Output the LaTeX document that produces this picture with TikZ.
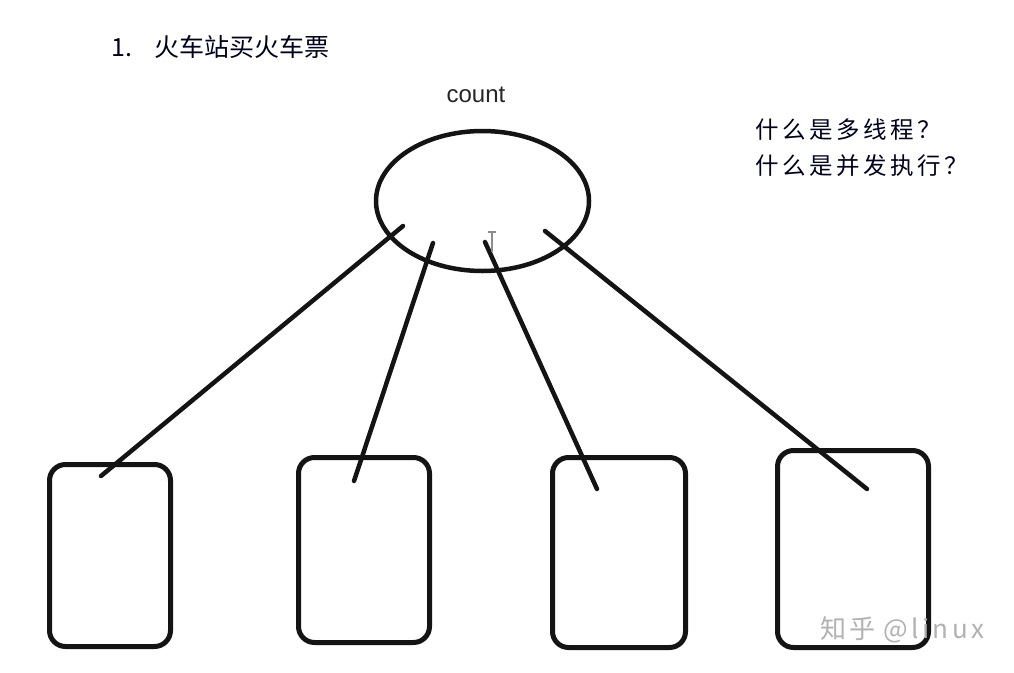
\documentclass[tikz,border=0pt]{standalone}
\usepackage{fontspec}
\setmainfont{Liberation Sans}
\newfontfamily\cjk{Noto Sans CJK SC}
\newfontfamily\cjkwide[LetterSpace=15]{Noto Sans CJK SC}
\newfontfamily\cjkwm[LetterSpace=13]{Noto Sans CJK SC}
\usetikzlibrary{shapes.geometric,calc}
\begin{document}
\begin{tikzpicture}[x=1pt,y=-1pt,
  box/.style={draw=black!92, line width=5pt, rounded corners=16pt, rectangle, inner sep=0pt},
  link/.style={draw=black!92, line width=4.5pt, line cap=round},
  cjktext/.style={font=\cjkwide\fontsize{23.5pt}{36pt}\selectfont, text=black!80!blue!60!black, inner sep=0pt, anchor=west},
  wm/.style={font=\cjkwm\fontsize{26pt}{30pt}\selectfont, text=black!30, inner sep=0pt, anchor=west}]
\useasboundingbox[fill=white] (0,0) rectangle (1014,672);

% title
\node[cjktext, font=\cjk\fontsize{25pt}{30pt}\selectfont] (title) at (111,47) {1.\hspace{22pt}火车站买火车票};

% count label and ellipse
\node[inner sep=0pt, font=\fontsize{24pt}{28pt}\selectfont, text=black!85] (lbl) at (476,95) {count};
\node[ellipse, draw=black!92, line width=4.5pt, minimum width=213pt, minimum height=140pt, inner sep=0pt] (cnt) at (482.5,201) {};

% questions
\node[cjktext, align=left] (q) at (755,148) {什么是多线程？\\什么是并发执行？};

% boxes
\node[box, minimum width=121pt, minimum height=182pt] (b1) at (110,555.5) {};
\node[box, minimum width=131pt, minimum height=185pt] (b2) at (364,550) {};
\node[box, minimum width=133pt, minimum height=190pt] (b3) at (619,552.5) {};
\node[box, minimum width=151pt, minimum height=197pt] (b4) at (853,549) {};

% connector end points
\coordinate (s1) at (403,226);
\coordinate (s2) at (433,243);
\coordinate (s3) at (485,242);
\coordinate (s4) at (545,231);
\coordinate (e1) at (101,476);
\coordinate (e2) at (354,481);
\coordinate (e3) at (597,489);
\coordinate (e4) at (867,489);

\draw[link] (s1) -- (e1);
\draw[link] (s2) -- (e2);
\draw[link] (s3) -- (e3);
\draw[link] (s4) -- (e4);

% text cursor
\coordinate (ct) at (492,232);
\coordinate (cb) at (492,252);
\draw[black!45, line width=1.2pt] (ct) -- (cb);
\draw[black!45, line width=1.2pt] ($(ct)+(-4,0)$) -- ($(ct)+(4,0)$);

% watermark
\node[wm] (wmark) at (820,630) {知乎\hspace{8pt}@linux};
\end{tikzpicture}
\end{document}
